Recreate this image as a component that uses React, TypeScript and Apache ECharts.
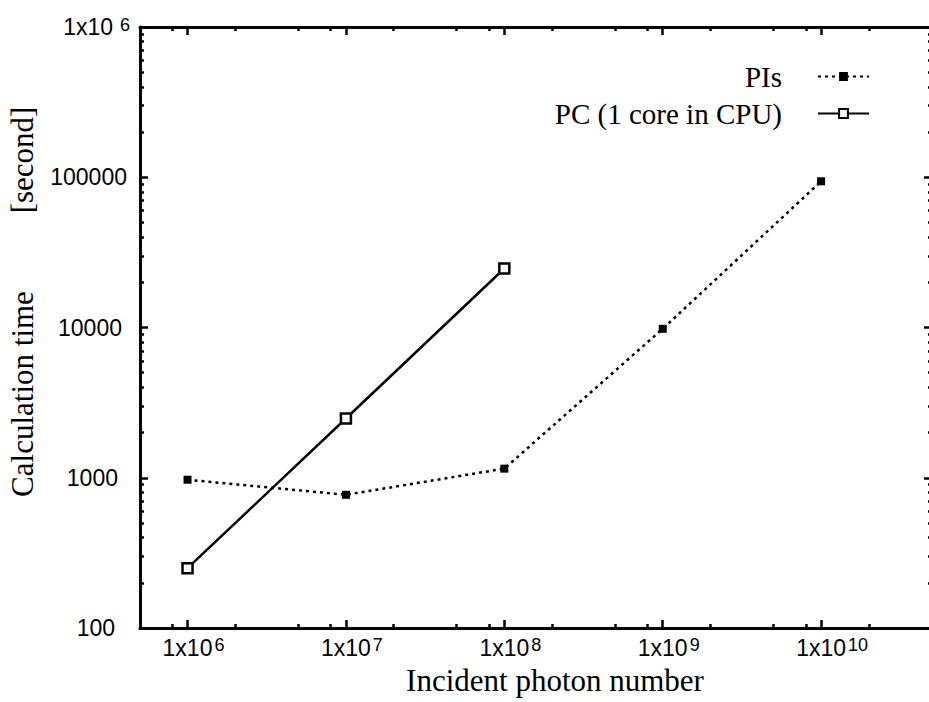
import React, { useEffect, useRef } from 'react';
import * as echarts from 'echarts';

// ---- data ----
const seriesNames = ['PIs', 'PC (1 core in CPU)'];
const piPhotons = [1e6, 1e7, 1e8, 1e9, 1e10];
const piTimes = [970, 770, 1150, 9800, 94000];
const pcPhotons = [1e6, 1e7, 1e8];
const pcTimes = [250, 2480, 24700];

// ---- ticks ----
const xMajorTicks = [1e6, 1e7, 1e8, 1e9, 1e10];
const xMinorTicks = [8e5, 2e6, 5e6, 8e6, 2e7, 5e7, 8e7, 2e8, 5e8, 8e8, 2e9, 5e9, 8e9, 2e10];
const yMajorTicks = [100, 1000, 10000, 100000, 1000000];
const yMinorTicks = [
  200, 300, 400, 500, 600, 700, 800, 900,
  2000, 3000, 4000, 5000, 6000, 7000, 8000, 9000,
  20000, 30000, 40000, 50000, 60000, 70000, 80000, 90000,
  200000, 300000, 400000, 500000, 600000, 700000, 800000, 900000,
];

const xTitle = 'Incident photon number';
const yTitle = 'Calculation time';
const yUnit = '[second]';

const X_MIN = Math.pow(10, 5.7);
const X_MAX = Math.pow(10, 10.7);
const Y_MIN = 100;
const Y_MAX = 1e6;

const SANS = 'Liberation Sans';
const SERIF = 'Liberation Serif';

const gridRect = { left: 140, top: 27, width: 792, height: 601, containLabel: false, outerBoundsMode: 'none' };

const lineAxis = { show: true, onZero: false, lineStyle: { color: '#000', width: 3 } };

const LBL = 23;
const SUP = 18;

const supRich: any = {
  b: { fontFamily: SANS, fontSize: LBL, color: '#000', lineHeight: LBL, padding: [8, 0, 0, 0], verticalAlign: 'bottom' },
  s: { fontFamily: SANS, fontSize: SUP, color: '#000', lineHeight: SUP, verticalAlign: 'top', padding: [0, 0, 0, 2] },
  p1: { width: 12 },
  p2: { width: 22 },
  by: { fontFamily: SANS, fontSize: LBL, color: '#000', lineHeight: LBL, padding: [4, 0, 0, 0], verticalAlign: 'bottom' },
  sy: { fontFamily: SANS, fontSize: SUP, color: '#000', lineHeight: SUP, verticalAlign: 'top', padding: [0, 0, 0, 7] },
  r3: { fontFamily: SANS, fontSize: LBL, color: '#000', padding: [0, 3, 0, 0] },
  r8: { fontFamily: SANS, fontSize: LBL, color: '#000', padding: [0, 8, 0, 0] },
  r12: { fontFamily: SANS, fontSize: LBL, color: '#000', padding: [0, 12, 0, 0] },
  r15: { fontFamily: SANS, fontSize: LBL, color: '#000', padding: [0, 15, 0, 0] },
};

function isPow10(v: number) {
  const e = Math.log10(v);
  return Math.abs(e - Math.round(e)) < 1e-6;
}
function xLabel(v: number) {
  if (!isPow10(v)) return '';
  const e = Math.round(Math.log10(v));
  const pad = e >= 10 ? 'p2' : 'p1';
  return `{${pad}|}{b|1x10}{s|${e}}`;
}
function yLabel(v: number) {
  if (!isPow10(v)) return '';
  const e = Math.round(Math.log10(v));
  if (e >= 6) return `{by|1x10}{sy|${e}}`;
  const padStyle = e === 5 ? 'r3' : e === 4 ? 'r8' : e === 3 ? 'r12' : 'r15';
  return `{${padStyle}|${Math.round(v)}}`;
}

function xAxisDef(gridIndex: number, position: string, major: boolean, labels: boolean) {
  return {
    type: 'log',
    logBase: 10,
    gridIndex,
    position,
    min: X_MIN,
    max: X_MAX,
    axisLine: major ? lineAxis : { show: false },
    axisTick: {
      show: true,
      inside: true,
      length: major ? 8 : 4,
      lineStyle: { color: '#000', width: 2.5 },
      customValues: major ? xMajorTicks : xMinorTicks,
    },
    axisLabel: labels
      ? {
          show: true,
          customValues: xMajorTicks,
          formatter: xLabel,
          margin: 8,
          fontFamily: SANS,
          fontSize: LBL,
          rich: supRich,
          color: '#000',
        }
      : { show: false },
    splitLine: { show: false },
  };
}

function yAxisDef(gridIndex: number, position: string, major: boolean, labels: boolean) {
  return {
    type: 'log',
    logBase: 10,
    gridIndex,
    position,
    min: Y_MIN,
    max: Y_MAX,
    axisLine: major ? lineAxis : { show: false },
    axisTick: {
      show: true,
      inside: true,
      length: major ? 8 : 4,
      lineStyle: { color: '#000', width: 2.5 },
      customValues: major ? yMajorTicks : yMinorTicks,
    },
    axisLabel: labels
      ? {
          show: true,
          formatter: yLabel,
          margin: 10,
          fontFamily: SANS,
          fontSize: LBL,
          color: '#000',
          rich: supRich,
        }
      : { show: false },
    splitLine: { show: false },
  };
}

export default function App() {
  const ref = useRef<HTMLDivElement>(null);

  useEffect(() => {
    if (!ref.current) return;
    const chart = echarts.init(ref.current, null, { renderer: 'svg' });
    const option: any = {
      animation: false,
      backgroundColor: '#fff',
      grid: [{ ...gridRect }, { ...gridRect }],
      xAxis: [
        xAxisDef(0, 'bottom', true, true),
        xAxisDef(0, 'top', true, false),
        xAxisDef(1, 'bottom', false, false),
        xAxisDef(1, 'top', false, false),
      ],
      yAxis: [
        yAxisDef(0, 'left', true, true),
        yAxisDef(0, 'right', true, false),
        yAxisDef(1, 'left', false, false),
        yAxisDef(1, 'right', false, false),
      ],
      legend: {
        orient: 'vertical',
        right: 59,
        top: 62,
        padding: 0,
        align: 'right',
        itemWidth: 51,
        itemHeight: 11,
        itemGap: 8,
        selectedMode: false,
        data: seriesNames,
        textStyle: {
          fontFamily: SERIF,
          fontSize: 29,
          lineHeight: 28,
          color: '#000',
          padding: [0, 31, 0, 0],
        },
      },
      graphic: [
        {
          type: 'text',
          x: 22,
          y: 394,
          rotation: Math.PI / 2,
          style: {
            text: yTitle,
            fontFamily: SERIF,
            fontSize: 31,
            fill: '#000',
            align: 'center',
            verticalAlign: 'middle',
          },
        },
        {
          type: 'text',
          x: 22,
          y: 160,
          rotation: Math.PI / 2,
          style: {
            text: yUnit,
            fontFamily: SERIF,
            fontSize: 31,
            fill: '#000',
            align: 'center',
            verticalAlign: 'middle',
          },
        },
        {
          type: 'text',
          x: 555,
          y: 680,
          style: {
            text: xTitle,
            fontFamily: SERIF,
            fontSize: 31,
            fill: '#000',
            align: 'center',
            verticalAlign: 'middle',
          },
        },
      ],
      series: [
        {
          name: seriesNames[0],
          type: 'line',
          xAxisIndex: 0,
          yAxisIndex: 0,
          data: piPhotons.map((x, i) => [x, piTimes[i]]),
          symbol: 'rect',
          symbolSize: 8,
          itemStyle: { color: '#000' },
          lineStyle: { color: '#000', width: 2.5, type: [3, 4] },
        },
        {
          name: seriesNames[1],
          type: 'line',
          xAxisIndex: 0,
          yAxisIndex: 0,
          data: pcPhotons.map((x, i) => [x, pcTimes[i]]),
          symbol: 'rect',
          symbolSize: 10,
          itemStyle: { color: '#fff', borderColor: '#000', borderWidth: 2.5 },
          lineStyle: { color: '#000', width: 2.5, type: 'solid' },
        },
      ],
    };
    chart.setOption(option);
    return () => chart.dispose();
  }, []);

  return (
    <div
      ref={ref}
      style={{ position: 'fixed', left: 0, top: 0, width: 929, height: 702, background: '#fff' }}
    />
  );
}
